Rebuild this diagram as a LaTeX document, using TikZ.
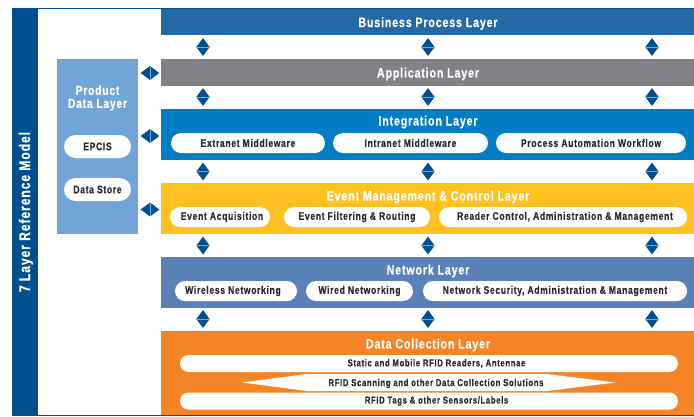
\documentclass[tikz,border=0pt]{standalone}
\usepackage{fontspec}
\setmainfont{Liberation Sans}[FakeStretch=0.78,LetterSpace=6,BoldFont={Liberation Sans Bold},BoldFeatures={FakeBold=0.3}]
\usetikzlibrary{shapes.geometric,shapes.misc}
\definecolor{navy}{HTML}{00508F}
\definecolor{bizblue}{HTML}{2469A5}
\definecolor{appgrey}{HTML}{808285}
\definecolor{intblue}{HTML}{007DC3}
\definecolor{evtyellow}{HTML}{FFC222}
\definecolor{netblue}{HTML}{5B82B8}
\definecolor{dataorange}{HTML}{F58427}
\definecolor{prodblue}{HTML}{72A4D8}
\definecolor{inktext}{HTML}{2B2B2D}
\tikzset{
  x=1pt,y=-1pt,
  layer/.style={fill=#1,draw=none},
  ttl/.style={text=white,font=\bfseries\fontsize{13.7}{13}\selectfont,inner sep=0pt},
  pilltext/.style={text=inktext,font=\bfseries\fontsize{11}{11}\selectfont},
  pill/.style={draw=none,fill=white,rounded rectangle,inner sep=0pt,pilltext},
  vdia/.style={diamond,fill=navy,draw=none,inner sep=0pt,minimum width=13.5pt,minimum height=18pt,
    path picture={\draw[prodblue,line width=.6pt] (path picture bounding box.west)--(path picture bounding box.east);}},
  hdia/.style={diamond,fill=navy,draw=none,inner sep=0pt,minimum width=19pt,minimum height=14pt,
    path picture={\draw[prodblue,line width=.6pt] (path picture bounding box.north)--(path picture bounding box.south);}},
}
\newcommand{\slab}[5]{\node[pill,minimum width=#3pt,minimum height=#4pt] (#1) at (#2) {\raisebox{-1pt}{#5}};}
\begin{document}
\begin{tikzpicture}
\useasboundingbox (0,0) rectangle (694,416);
\fill[white] (0,0) rectangle (694,416);
% frame
\fill[navy] (12,8) rectangle (38,416);
\fill[navy] (12,8) rectangle (694,9);
\fill[navy] (12,415) rectangle (694,416);
\node[ttl,rotate=90,font=\bfseries\fontsize{15.5}{16}\selectfont] (side) at (26,212) {7 Layer Reference Model};
% layers
\fill[layer=bizblue] (161,9) rectangle (694,35);
\node[ttl] (biz) at (428,23.5) {Business Process Layer};
\fill[layer=appgrey] (161,59) rectangle (694,86);
\node[ttl] (app) at (428,74) {Application Layer};
\fill[layer=intblue] (161,109) rectangle (694,160);
\node[ttl] (int) at (428,122) {Integration Layer};
\fill[layer=evtyellow] (161,183) rectangle (694,234);
\node[ttl] (evt) at (428,197) {Event Management \& Control Layer};
\fill[layer=netblue] (161,257) rectangle (694,308);
\node[ttl] (net) at (428,271) {Network Layer};
\fill[layer=dataorange] (161,331) rectangle (694,415);
\node[ttl] (dat) at (428,345) {Data Collection Layer};
% product panel
\fill[layer=prodblue] (57,59) rectangle (138,234);
\node[ttl,align=center,font=\bfseries\fontsize{13.2}{13}\selectfont] (prod) at (97.5,98) {Product\\Data Layer};
\slab{epcis}{97.5,146.5}{67}{23}{EPCIS}
\slab{store}{97.5,189.5}{67}{23}{Data Store}
% pills
\slab{ext}{248,143}{154}{20}{Extranet Middleware}
\slab{intra}{410.5,143}{155}{20}{Intranet Middleware}
\slab{proc}{591,143}{190}{20}{Process Automation Workflow}
\slab{acq}{220,217}{100}{20}{\hspace*{4pt}Event Acquisition}
\slab{filt}{357,217}{146}{20}{Event Filtering \& Routing}
\slab{read}{563,217}{248}{20}{\hspace*{4pt}Reader Control, Administration \& Management}
\slab{wless}{236,291}{122}{20}{Wireless Networking\hspace*{6pt}}
\slab{wired}{359.5,291}{107}{20}{Wired Networking}
\slab{sec}{555,291}{264}{20}{Network Security, Administration \& Management}
\slab{rd}{429,363.5}{498}{17}{\hspace*{15pt}\bfseries\fontsize{10}{10}\selectfont Static and Mobile RFID Readers, Antennae}
\fill[white] (242,382.5) -- (307,374) -- (547,374) -- (615,382.5) -- (547,391) -- (307,391) -- cycle;
\node[pilltext,inner sep=0pt,font=\bfseries\fontsize{10}{10}\selectfont] (scan) at (436,383.5) {RFID Scanning and other Data Collection Solutions};
\slab{tag}{429,401}{498}{17}{\hspace*{15pt}\bfseries\fontsize{10}{10}\selectfont RFID Tags \& other Sensors/Labels}
% connectors
\foreach \n/\yy in {a/47,b/97,c/171.5,d/245.5,e/319}{
  \node[vdia] (\n1) at (203,\yy) {};
  \node[vdia] (\n2) at (428,\yy) {};
  \node[vdia] (\n3) at (652,\yy) {};
}
\node[hdia] (h1) at (150,73) {};
\node[hdia] (h2) at (150,136) {};
\node[hdia] (h3) at (150,209.5) {};
\end{tikzpicture}
\end{document}
